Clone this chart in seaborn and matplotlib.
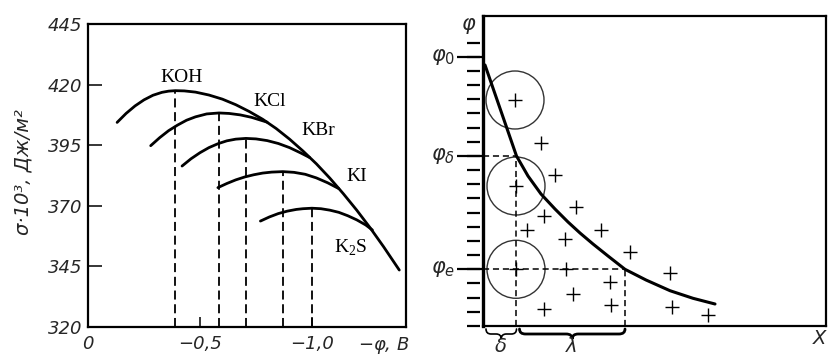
import numpy as np
import pandas as pd
import matplotlib
matplotlib.use("Agg")
import matplotlib.pyplot as plt
from matplotlib.patches import Circle, PathPatch
from matplotlib.path import Path
import seaborn as sns

# ---------------- Electrocapillary curves (left panel) ----------------
# -phi in volts, sigma*10^3 in J/m^2
koh_phi = [0.13, 0.17, 0.21, 0.25, 0.29, 0.33, 0.36, 0.39, 0.43, 0.48, 0.54,
           0.60, 0.66, 0.72, 0.78, 0.84, 0.90, 0.96, 1.02, 1.08, 1.14, 1.20,
           1.26, 1.32, 1.39]
koh_sigma = [404.4, 408.1, 411.2, 413.7, 415.6, 416.8, 417.3, 417.5, 417.4,
             416.9, 415.7, 414.0, 411.7, 408.9, 405.7, 401.9, 397.5, 392.6,
             387.3, 381.4, 375.0, 368.2, 360.9, 353.1, 343.5]
kcl_phi = [0.28, 0.32, 0.36, 0.40, 0.44, 0.48, 0.53, 0.585, 0.63, 0.68, 0.73,
           0.80]
kcl_sigma = [394.8, 398.1, 401.0, 403.3, 405.3, 406.7, 407.9, 408.3, 408.1,
             407.5, 406.5, 404.5]
kbr_phi = [0.42, 0.46, 0.50, 0.54, 0.58, 0.62, 0.66, 0.705, 0.75, 0.80, 0.85,
           0.90, 0.95, 0.99]
kbr_sigma = [386.4, 389.4, 391.9, 394.0, 395.6, 396.8, 397.5, 397.8, 397.6,
             396.9, 395.7, 394.0, 391.8, 389.9]
ki_phi = [0.58, 0.62, 0.66, 0.70, 0.74, 0.78, 0.82, 0.87, 0.92, 0.97, 1.02,
          1.07, 1.12]
ki_sigma = [377.5, 379.2, 380.7, 381.9, 382.8, 383.5, 383.9, 384.1, 383.8,
            383.0, 381.5, 379.5, 377.1]
k2s_phi = [0.77, 0.81, 0.85, 0.89, 0.93, 0.96, 1.00, 1.04, 1.08, 1.12, 1.16,
           1.20, 1.24, 1.27]
k2s_sigma = [363.7, 365.4, 366.8, 367.8, 368.5, 368.8, 369.0, 368.8, 368.2,
             367.3, 365.9, 364.2, 362.1, 360.0]

salts = ["KOH", "KCl", "KBr", "KI", "K$_\\mathregular{2}$S"]
# zero-charge potentials (curve maxima)
pzc_phi = [0.39, 0.585, 0.705, 0.87, 1.00]
pzc_sigma = [417.5, 408.3, 397.8, 384.1, 369.0]
label_phi = [0.42, 0.81, 1.03, 1.20, 1.175]
label_sigma = [423.0, 413.0, 401.0, 382.0, 352.5]

sigma_ticks = [320, 345, 370, 395, 420, 445]
phi_ticks = [0.0, 0.5, 1.0]
phi_ticklabels = ["0", "\u22120,5", "\u22121,0"]

# ------------- Potential in the double layer (right panel) -------------
dist_x = [2, 33.5, 45, 58, 72, 85, 97, 110, 125, 142, 163, 187, 210, 232]
dist_phi = [261, 170, 150, 132, 117, 104, 93, 82, 70, 56.7, 46, 35.3, 27.7, 22]
ion_x = [32, 58, 72, 33, 93.5, 61, 44, 118.5, 82, 147.5, 33, 83, 187.5,
         127.5, 90, 61, 128.5, 189.5, 225]
ion_y = [226, 183, 151.5, 140, 119, 110.5, 96, 96, 87.5, 74, 56.7, 56.7, 53,
         44, 32, 17, 21, 19.3, 11.5]
hydrated_x = [32, 33, 33]
hydrated_y = [226, 140, 56.7]
hydrated_r = 29
level_step = 14.17
level_count = 21
level_index = [4, 12, 19]
level_labels = [r"$\varphi_e$", r"$\varphi_\delta$", r"$\varphi_0$"]
delta_x = 33.5
lambda_x = 142

sns.set_theme(style="white")
plt.rcParams["font.family"] = ["DejaVu Sans"]
plt.rcParams["axes.edgecolor"] = "black"
plt.rcParams["mathtext.fontset"] = "dejavusans"

fig = plt.figure(figsize=(8.29, 3.57), dpi=100)
fig.patch.set_facecolor("white")

# ---------------- left panel ----------------
ax1 = fig.add_axes([88 / 829, 1 - 327 / 357, 318 / 829, 303 / 357])
frames = []
for name, xs, ys in zip(salts, [koh_phi, kcl_phi, kbr_phi, ki_phi, k2s_phi],
                        [koh_sigma, kcl_sigma, kbr_sigma, ki_sigma, k2s_sigma]):
    frames.append(pd.DataFrame({"salt": name, "phi": xs, "sigma": ys}))
curves = pd.concat(frames, ignore_index=True)
sns.lineplot(data=curves, x="phi", y="sigma", units="salt", estimator=None,
             sort=False, color="black", linewidth=2.0, ax=ax1,
             solid_capstyle="round", solid_joinstyle="round")
ax1.vlines(pzc_phi, 320, pzc_sigma, colors="black", linewidth=1.3,
           linestyles=(0, (5, 2.6)))
for name, lx, ly in zip(salts, label_phi, label_sigma):
    ax1.text(lx, ly, name, ha="center", va="center", fontsize=14,
             family=["Liberation Serif", "DejaVu Serif"], color="black")

ax1.set_xlim(0, 1.42)
ax1.set_ylim(320, 445)
ax1.set_yticks(sigma_ticks)
ax1.set_yticklabels([str(v) for v in sigma_ticks])
ax1.set_xticks(phi_ticks)
ax1.set_xticklabels(phi_ticklabels)
ax1.tick_params(axis="y", direction="in", length=10, width=1.3, pad=4,
                labelsize=13, left=True)
ax1.tick_params(axis="x", direction="in", length=7, width=1.3, pad=6,
                labelsize=13, bottom=True)
for lab in ax1.get_xticklabels() + ax1.get_yticklabels():
    lab.set_style("italic")
ax1.set_xlabel("")
ax1.set_ylabel("")
for sp in ax1.spines.values():
    sp.set_linewidth(1.6)
    sp.set_color("black")
ax1.text(1.32, -0.027, "\u2212$\\varphi$, B", transform=ax1.get_xaxis_transform(),
         ha="center", va="top", fontsize=13, style="italic")
fig.text(23 / 829, 1 - 172 / 357, "\u03c3\u00b710\u00b3, \u0414\u0436/\u043c\u00b2",
         rotation=90, ha="center", va="center", fontsize=14, style="italic")

# ---------------- right panel ----------------
ax2 = fig.add_axes([483 / 829, 1 - 326 / 357, 343 / 829, 310 / 357])
ax2.set_xlim(0, 343)
ax2.set_ylim(0, 310)
sns.lineplot(x=dist_x, y=dist_phi, sort=False, estimator=None, color="black",
             linewidth=2.2, ax=ax2)
sns.scatterplot(x=ion_x, y=ion_y, marker="+", s=100, color="black",
                linewidth=1.0, ax=ax2, zorder=3)
for cx, cy in zip(hydrated_x, hydrated_y):
    ax2.add_patch(Circle((cx, cy), hydrated_r, fill=False, edgecolor="#333333",
                         linewidth=1.0))

levels = [i * level_step for i in range(level_count)]
ax2.hlines(levels, -16, -3, colors="black", linewidth=1.6, clip_on=False)
phi_e = levels[level_index[0]]
phi_d = levels[level_index[1]]
for idx, lab in zip(level_index, level_labels):
    y = levels[idx]
    ax2.hlines(y, -26, 0, colors="black", linewidth=1.6, clip_on=False)
    ax2.text(-28, y, lab, ha="right", va="center", fontsize=15, clip_on=False)

dash = (0, (4, 2.5))
ax2.hlines(phi_d, 0, delta_x, colors="black", linewidth=1.1, linestyles=dash)
ax2.vlines(delta_x, 0, phi_d, colors="black", linewidth=1.1, linestyles=dash)
ax2.hlines(phi_e, 0, lambda_x, colors="black", linewidth=1.1, linestyles=dash)
ax2.vlines(lambda_x, 0, phi_e, colors="black", linewidth=1.1, linestyles=dash)


def brace(ax, x0, x1, y, h, lw):
    xm = (x0 + x1) / 2
    q = min(6, (x1 - x0) / 6)
    yb = y - h / 2
    verts = [(x0, y), (x0, yb), (x0 + q, yb), (xm - q, yb), (xm, yb), (xm, y - h),
             (xm, yb), (xm + q, yb), (x1 - q, yb), (x1, yb), (x1, y)]
    codes = [Path.MOVETO, Path.CURVE3, Path.CURVE3, Path.LINETO, Path.CURVE3,
             Path.CURVE3, Path.CURVE3, Path.CURVE3, Path.LINETO, Path.CURVE3,
             Path.CURVE3]
    ax.add_patch(PathPatch(Path(verts, codes), fill=False, edgecolor="black",
                           linewidth=lw, clip_on=False, capstyle="round"))


brace(ax2, 3, delta_x, -3, 10, 1.2)
brace(ax2, delta_x + 3, lambda_x, -3, 10, 2.0)
ax2.text(delta_x / 2 + 1, -21, r"$\delta$", ha="center", va="center", fontsize=14,
         clip_on=False)
ax2.text((delta_x + lambda_x) / 2, -21, r"$\lambda$", ha="center", va="center",
         fontsize=14, clip_on=False)
ax2.text(337, -12, "X", ha="center", va="center", fontsize=14, style="italic",
         clip_on=False)
ax2.text(-14, 300, r"$\varphi$", ha="center", va="center", fontsize=15,
         clip_on=False)

ax2.set_xticks([])
ax2.set_yticks([])
ax2.set_xlabel("")
ax2.set_ylabel("")
for sp in ax2.spines.values():
    sp.set_linewidth(1.6)
    sp.set_color("black")
ax2.spines["left"].set_linewidth(2.4)

fig.savefig("out.png", dpi=100, facecolor="white")
